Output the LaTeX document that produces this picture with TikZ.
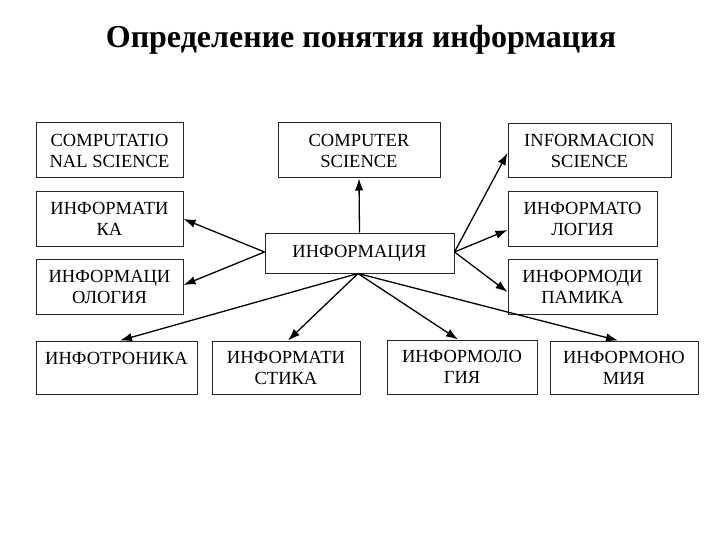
\documentclass[tikz,border=0pt]{standalone}
\usepackage{fontspec}
\setmainfont{Liberation Serif}
\usetikzlibrary{arrows.meta,calc}
\begin{document}
\begin{tikzpicture}[x=1pt,y=-1pt,
  bx/.style={draw=black!85,line width=1pt,rectangle,inner sep=0pt,align=center,
    font=\fontsize{18.5}{21}\selectfont,text=black},
  arr/.style={line width=1.3pt,-{Latex[length=12pt,width=8.5pt]}}]
\useasboundingbox (0,0) rectangle (720,540);
\node[font=\fontsize{32}{36}\selectfont\bfseries] (title) at (361,40) {Определение понятия информация};
% top row
\node[bx,minimum width=147pt,minimum height=55pt] (cs) at (109.5,150.5) {COMPUTATIO\\NAL SCIENCE};
\node[bx,minimum width=162pt,minimum height=55pt] (csc) at (359,150.5) {COMPUTER\\SCIENCE};
\node[bx,minimum width=163pt,minimum height=54pt] (is) at (589.5,151) {INFORMACION\\SCIENCE};
% second row
\node[bx,minimum width=147pt,minimum height=54pt] (ika) at (109.5,219) {ИНФОРМАТИ\\КА};
\node[bx,minimum width=149pt,minimum height=54pt] (ilog) at (582.5,219) {ИНФОРМАТО\\ЛОГИЯ};
% centre
\node[bx,minimum width=189pt,minimum height=40pt] (c) at (359.5,253) {ИНФОРМАЦИЯ};
% third row
\node[bx,minimum width=147pt,minimum height=55pt] (iol) at (109.5,286.5) {ИНФОРМАЦИ\\ОЛОГИЯ};
\node[bx,minimum width=149pt,minimum height=55pt] (idin) at (582.5,286.5) {ИНФОРМОДИ\\ПАМИКА};
% bottom row
\node[bx,minimum width=161pt,minimum height=53pt] (b1) at (116.5,367.5) {\rule{0pt}{22pt}ИНФОТРОНИКА\\\strut};
\node[bx,minimum width=148pt,minimum height=53pt] (b2) at (286,367.5) {ИНФОРМАТИ\\СТИКА};
\node[bx,minimum width=150pt,minimum height=54pt] (b3) at (462,367) {ИНФОРМОЛО\\ГИЯ};
\node[bx,minimum width=148pt,minimum height=53pt] (b4) at (624,367.5) {ИНФОРМОНО\\МИЯ};
% connectors
\coordinate (cl) at ($(c.west)+(0,-1)$);
\coordinate (cr) at ($(c.east)+(0,-1)$);
\coordinate (cb) at ($(c.south)+(-1.5,0)$);
\draw[arr] (c.north) -- (csc.south);
\draw[arr] (cl) -- (ika.east);
\draw[arr] (cl) -- ($(iol.east)+(0,-1.5)$);
\draw[arr] (cr) -- ($(is.west)+(0,2)$);
\draw[arr] (cr) -- ($(ilog.west)+(0,11)$);
\draw[arr] (cr) -- ($(idin.west)+(0,5.5)$);
\draw[arr] (cb) -- ($(b1.north)+(3.5,0)$);
\draw[arr] (cb) -- ($(b2.north)+(2,0)$);
\draw[arr] (cb) -- ($(b3.north)+(-4,0)$);
\draw[arr] (cb) -- ($(b4.north)+(-6,0)$);
\end{tikzpicture}
\end{document}
